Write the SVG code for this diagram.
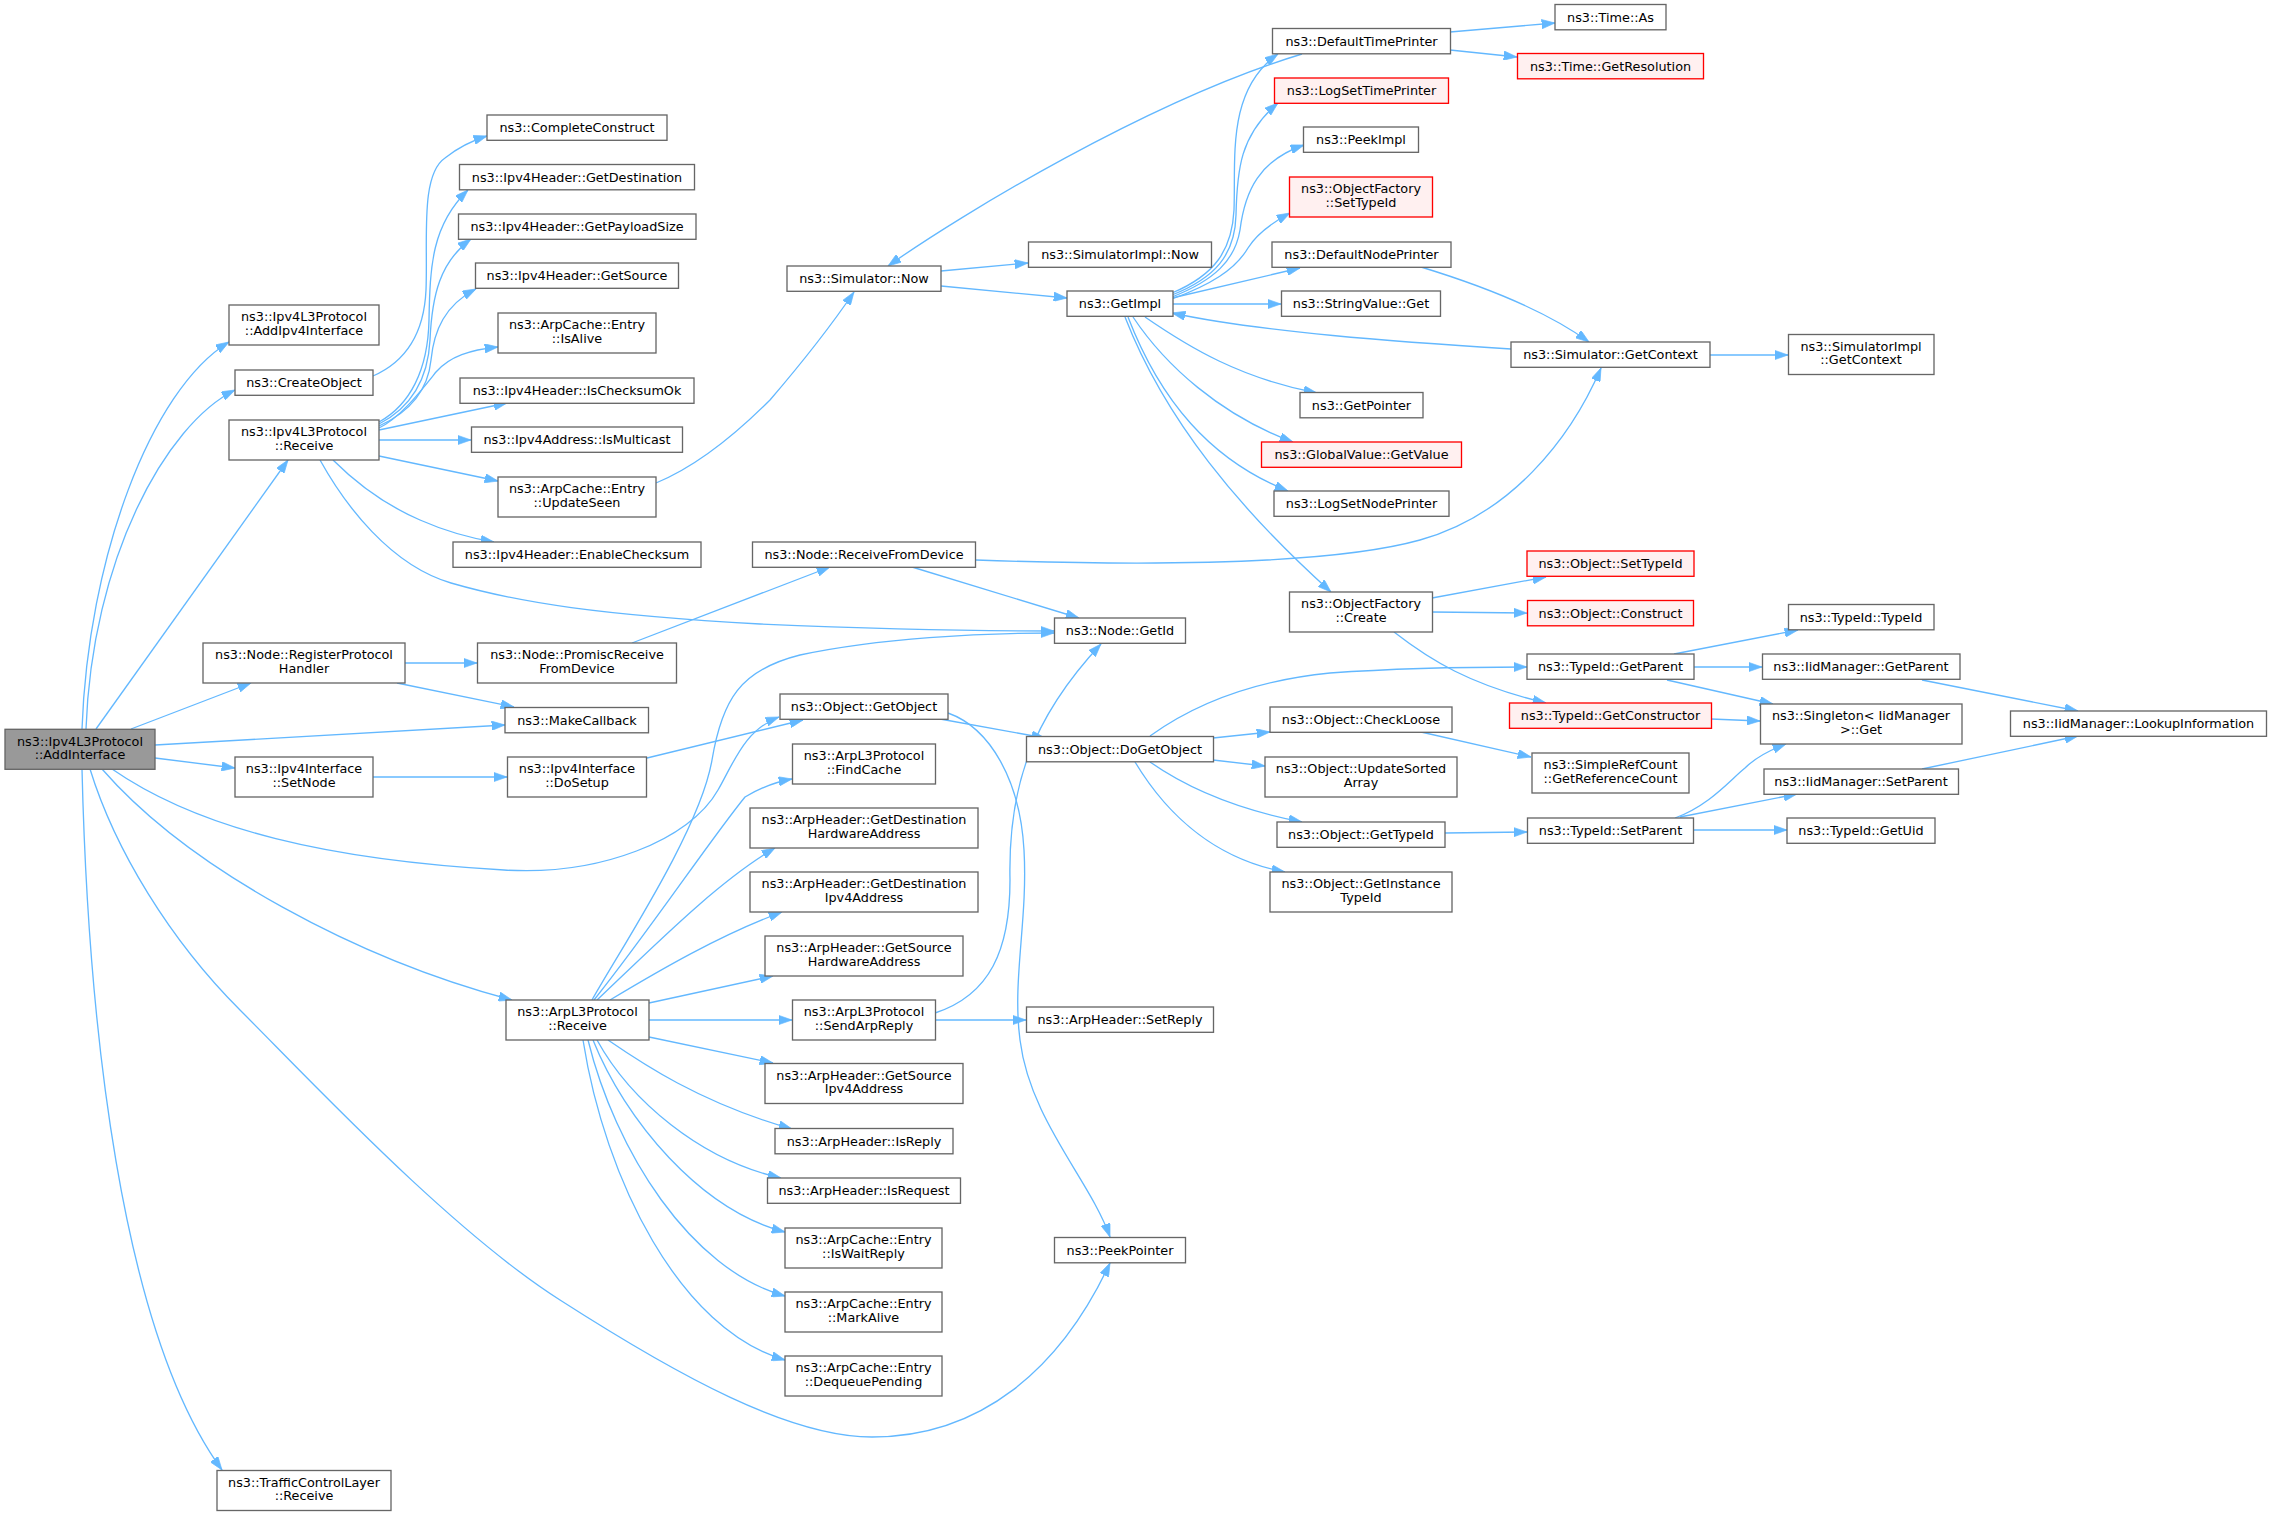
<svg xmlns="http://www.w3.org/2000/svg" width="2272" height="1516" viewBox="0 0 2272 1516">
<style>
.n rect{fill:#ffffff;stroke:#666666;stroke-width:1.33}
.n.root rect{fill:#999999}
.n.red rect{fill:#fff0f0;stroke:#ff0000}
.n text{font-family:"DejaVu Sans",sans-serif;font-size:12.8px;text-anchor:middle;fill:#000000}
#edges path{fill:none;stroke:#63b8ff;stroke-width:1.33;marker-end:url(#a)}
</style>
<defs>
<marker id="a" viewBox="0 0 10 7" refX="10" refY="3.5" markerWidth="13.33" markerHeight="9.33" markerUnits="userSpaceOnUse" orient="auto">
<path d="M0,0 L10,3.5 L0,7 z" fill="#63b8ff" stroke="#63b8ff" stroke-width="0.5"/>
</marker>
</defs>
<rect width="2272" height="1516" fill="#ffffff"/>
<g id="edges">
<path d="M82,729 C88,560 150,390 229,342"/>
<path d="M86,729 C92,560 165,425 235,390"/>
<path d="M96,729 L288,460"/>
<path d="M131,729 L251,683"/>
<path d="M155,745 L505,725"/>
<path d="M155,758 L235,768"/>
<path d="M112,769 C200,830 330,860 504,870 C600,876 690,840 718,790 C735,760 745,730 779,717"/>
<path d="M102,769 C190,870 360,960 512,1000"/>
<path d="M90,769 C115,850 170,940 240,1010 C310,1080 450,1230 560,1300 C680,1377 790,1437 872,1437 C980,1437 1060,1370 1110,1263"/>
<path d="M82,769 C88,1020 120,1330 222,1470"/>
<path d="M373,376 C405,362 424,335 426,290 C428,240 420,175 445,158 C460,146 474,140 487,136"/>
<path d="M379,422 C410,405 428,370 429,320 C430,265 432,225 468,190"/>
<path d="M379,424 C410,408 428,380 430,340 C432,295 440,262 471,239"/>
<path d="M379,426 C410,412 428,390 431,360 C434,330 445,305 476,289"/>
<path d="M379,428 C400,418 420,392 436,372 C450,356 470,350 498,347"/>
<path d="M379,430 L507,403"/>
<path d="M379,440 L471,440"/>
<path d="M379,456 L498,481"/>
<path d="M333,460 C360,487 390,507 420,520 C445,531 470,538 494,542"/>
<path d="M320,460 C345,505 390,565 451,583 C520,603 600,615 760,624 C880,629 980,631 1054,631"/>
<path d="M656,483 C700,465 740,430 770,400 C800,365 835,320 854,292"/>
<path d="M405,663 L477,663"/>
<path d="M397,683 L514,707"/>
<path d="M373,777 L507,777"/>
<path d="M647,758 L803,720"/>
<path d="M632,643 L830,567"/>
<path d="M592,1000 C620,950 700,830 712,760 C722,700 740,670 800,655 C880,638 980,633 1054,633"/>
<path d="M594,1000 C650,930 710,840 745,797 C760,788 775,782 792,779"/>
<path d="M597,1000 C660,940 720,880 775,848"/>
<path d="M610,1000 C660,970 720,935 782,912"/>
<path d="M649,1003 L773,976"/>
<path d="M649,1020 L792,1020"/>
<path d="M649,1037 L773,1063"/>
<path d="M608,1040 C640,1062 700,1103 792,1129"/>
<path d="M597,1040 C630,1100 700,1160 781,1178"/>
<path d="M593,1040 C625,1120 700,1210 785,1232"/>
<path d="M588,1040 C615,1150 690,1270 785,1296"/>
<path d="M583,1040 C605,1180 680,1330 785,1360"/>
<path d="M941,271 L1028,263"/>
<path d="M941,286 L1067,298"/>
<path d="M912,567 L1079,618"/>
<path d="M976,560 C1150,566 1330,565 1420,540 C1510,515 1570,440 1601,368"/>
<path d="M940,719 L1045,738"/>
<path d="M948,713 C990,728 1020,780 1024,850 C1028,920 1012,980 1020,1040 C1030,1120 1090,1180 1110,1237"/>
<path d="M935,1013 C990,995 1010,950 1010,880 C1008,790 1030,720 1101,644"/>
<path d="M935,1020 L1026,1020"/>
<path d="M1172,293 C1215,275 1232,250 1234,210 C1236,160 1226,90 1278,54"/>
<path d="M1172,295 C1215,278 1235,255 1236,215 C1237,170 1240,135 1278,103"/>
<path d="M1172,297 C1215,280 1235,260 1240,230 C1245,190 1260,160 1304,145"/>
<path d="M1172,299 C1210,285 1235,270 1248,248 C1256,235 1268,225 1290,213"/>
<path d="M1172,298 L1300,268"/>
<path d="M1172,304 L1281,304"/>
<path d="M1145,317 C1190,348 1240,378 1317,393"/>
<path d="M1133,317 C1165,365 1220,415 1293,442"/>
<path d="M1128,317 C1160,400 1210,460 1288,491"/>
<path d="M1125,317 C1165,420 1240,510 1331,592"/>
<path d="M1302,54 C1150,100 960,215 888,266"/>
<path d="M1450,32 L1555,23"/>
<path d="M1450,50 L1517,57"/>
<path d="M1421,267 C1480,285 1545,310 1589,342"/>
<path d="M1511,349 C1400,342 1260,332 1172,313"/>
<path d="M1710,355 L1788,355"/>
<path d="M1432,598 L1546,577"/>
<path d="M1432,612 L1527,613"/>
<path d="M1394,632 C1430,660 1470,685 1546,703"/>
<path d="M1213,738 L1270,732"/>
<path d="M1213,760 L1265,766"/>
<path d="M1150,762 C1190,790 1240,810 1302,822"/>
<path d="M1135,762 C1170,820 1220,860 1285,872"/>
<path d="M1150,736 C1200,700 1260,680 1330,673 C1400,668 1470,667 1527,667"/>
<path d="M1421,732 L1531,757"/>
<path d="M1445,833 L1527,832"/>
<path d="M1674,654 L1798,630"/>
<path d="M1694,667 L1762,667"/>
<path d="M1667,680 L1773,704"/>
<path d="M1711,719 L1760,721"/>
<path d="M1675,818 C1710,805 1730,780 1745,768 C1755,758 1770,750 1786,744"/>
<path d="M1680,817 L1797,794"/>
<path d="M1694,830 L1787,830"/>
<path d="M1922,680 L2078,711"/>
<path d="M1922,769 L2078,736"/>
</g>
<g id="n_root" class="n root"><rect x="5" y="729.3" width="150" height="40"/><text x="80" y="745.6">ns3::Ipv4L3Protocol</text><text x="80" y="758.9">::AddInterface</text></g>
<g id="n_addipv4" class="n"><rect x="229" y="305" width="150" height="40"/><text x="304" y="321.3">ns3::Ipv4L3Protocol</text><text x="304" y="334.6">::AddIpv4Interface</text></g>
<g id="n_createobject" class="n"><rect x="235" y="370" width="138" height="25.3"/><text x="304" y="387">ns3::CreateObject</text></g>
<g id="n_ipv4receive" class="n"><rect x="229" y="420" width="150" height="40"/><text x="304" y="436.3">ns3::Ipv4L3Protocol</text><text x="304" y="449.6">::Receive</text></g>
<g id="n_registerph" class="n"><rect x="203" y="643" width="202" height="40"/><text x="304" y="659.3">ns3::Node::RegisterProtocol</text><text x="304" y="672.6">Handler</text></g>
<g id="n_setnode" class="n"><rect x="235" y="757" width="138" height="40"/><text x="304" y="773.3">ns3::Ipv4Interface</text><text x="304" y="786.6">::SetNode</text></g>
<g id="n_tcl" class="n"><rect x="217" y="1470.5" width="174" height="40"/><text x="304" y="1486.8">ns3::TrafficControlLayer</text><text x="304" y="1500.1">::Receive</text></g>
<g id="n_completeconstruct" class="n"><rect x="487" y="115" width="180" height="25.3"/><text x="577" y="132">ns3::CompleteConstruct</text></g>
<g id="n_getdestination" class="n"><rect x="459.5" y="164.5" width="235" height="25.3"/><text x="577" y="181.5">ns3::Ipv4Header::GetDestination</text></g>
<g id="n_getpayloadsize" class="n"><rect x="458.5" y="214" width="237.5" height="25.3"/><text x="577" y="231">ns3::Ipv4Header::GetPayloadSize</text></g>
<g id="n_getsource" class="n"><rect x="475.5" y="263" width="203" height="25.3"/><text x="577" y="280">ns3::Ipv4Header::GetSource</text></g>
<g id="n_isalive" class="n"><rect x="498" y="313" width="158" height="40"/><text x="577" y="329.3">ns3::ArpCache::Entry</text><text x="577" y="342.6">::IsAlive</text></g>
<g id="n_ischecksumok" class="n"><rect x="460" y="378" width="234" height="25.3"/><text x="577" y="395">ns3::Ipv4Header::IsChecksumOk</text></g>
<g id="n_ismulticast" class="n"><rect x="471.5" y="427" width="211" height="25.3"/><text x="577" y="444">ns3::Ipv4Address::IsMulticast</text></g>
<g id="n_updateseen" class="n"><rect x="498" y="477" width="158" height="40"/><text x="577" y="493.3">ns3::ArpCache::Entry</text><text x="577" y="506.6">::UpdateSeen</text></g>
<g id="n_enablechecksum" class="n"><rect x="453" y="542" width="248" height="25.3"/><text x="577" y="559">ns3::Ipv4Header::EnableChecksum</text></g>
<g id="n_promisc" class="n"><rect x="477.5" y="643" width="199" height="40"/><text x="577" y="659.3">ns3::Node::PromiscReceive</text><text x="577" y="672.6">FromDevice</text></g>
<g id="n_makecallback" class="n"><rect x="505" y="707.5" width="143.5" height="25.3"/><text x="577" y="724.5">ns3::MakeCallback</text></g>
<g id="n_dosetup" class="n"><rect x="507.5" y="757" width="139" height="40"/><text x="577" y="773.3">ns3::Ipv4Interface</text><text x="577" y="786.6">::DoSetup</text></g>
<g id="n_arpreceive" class="n"><rect x="506" y="1000" width="143" height="40"/><text x="577.5" y="1016.3">ns3::ArpL3Protocol</text><text x="577.5" y="1029.6">::Receive</text></g>
<g id="n_simnow" class="n"><rect x="787" y="266" width="154" height="25.3"/><text x="864" y="283">ns3::Simulator::Now</text></g>
<g id="n_recvfromdev" class="n"><rect x="752.5" y="542" width="223" height="25.3"/><text x="864" y="559">ns3::Node::ReceiveFromDevice</text></g>
<g id="n_getobject" class="n"><rect x="780" y="694" width="168" height="25.3"/><text x="864" y="711">ns3::Object::GetObject</text></g>
<g id="n_findcache" class="n"><rect x="792.5" y="744" width="143" height="40"/><text x="864" y="760.3">ns3::ArpL3Protocol</text><text x="864" y="773.6">::FindCache</text></g>
<g id="n_getdesthw" class="n"><rect x="750" y="808" width="228" height="40"/><text x="864" y="824.3">ns3::ArpHeader::GetDestination</text><text x="864" y="837.6">HardwareAddress</text></g>
<g id="n_getdestip" class="n"><rect x="750" y="872" width="228" height="40"/><text x="864" y="888.3">ns3::ArpHeader::GetDestination</text><text x="864" y="901.6">Ipv4Address</text></g>
<g id="n_getsrchw" class="n"><rect x="765" y="936" width="198" height="40"/><text x="864" y="952.3">ns3::ArpHeader::GetSource</text><text x="864" y="965.6">HardwareAddress</text></g>
<g id="n_sendarpreply" class="n"><rect x="792.5" y="1000" width="143" height="40"/><text x="864" y="1016.3">ns3::ArpL3Protocol</text><text x="864" y="1029.6">::SendArpReply</text></g>
<g id="n_getsrcip" class="n"><rect x="765" y="1063.5" width="198" height="40"/><text x="864" y="1079.8">ns3::ArpHeader::GetSource</text><text x="864" y="1093.1">Ipv4Address</text></g>
<g id="n_isreply" class="n"><rect x="775" y="1128.5" width="178" height="25.3"/><text x="864" y="1145.5">ns3::ArpHeader::IsReply</text></g>
<g id="n_isrequest" class="n"><rect x="767.5" y="1178" width="193" height="25.3"/><text x="864" y="1195">ns3::ArpHeader::IsRequest</text></g>
<g id="n_iswaitreply" class="n"><rect x="785" y="1228" width="157" height="40"/><text x="863.5" y="1244.3">ns3::ArpCache::Entry</text><text x="863.5" y="1257.6">::IsWaitReply</text></g>
<g id="n_markalive" class="n"><rect x="785" y="1292" width="157" height="40"/><text x="863.5" y="1308.3">ns3::ArpCache::Entry</text><text x="863.5" y="1321.6">::MarkAlive</text></g>
<g id="n_dequeue" class="n"><rect x="785" y="1356" width="157" height="40"/><text x="863.5" y="1372.3">ns3::ArpCache::Entry</text><text x="863.5" y="1385.6">::DequeuePending</text></g>
<g id="n_simimplnow" class="n"><rect x="1028.5" y="242" width="183" height="25.3"/><text x="1120" y="259">ns3::SimulatorImpl::Now</text></g>
<g id="n_getimpl" class="n"><rect x="1067" y="291" width="106" height="25.3"/><text x="1120" y="308">ns3::GetImpl</text></g>
<g id="n_getid" class="n"><rect x="1054.5" y="618" width="131" height="25.3"/><text x="1120" y="635">ns3::Node::GetId</text></g>
<g id="n_dogetobject" class="n"><rect x="1026.5" y="736.5" width="187" height="25.3"/><text x="1120" y="753.5">ns3::Object::DoGetObject</text></g>
<g id="n_setreply" class="n"><rect x="1026.5" y="1007" width="187" height="25.3"/><text x="1120" y="1024">ns3::ArpHeader::SetReply</text></g>
<g id="n_peekpointer" class="n"><rect x="1054.5" y="1237.5" width="131" height="25.3"/><text x="1120" y="1254.5">ns3::PeekPointer</text></g>
<g id="n_deftimeprinter" class="n"><rect x="1272.5" y="28.5" width="178" height="25.3"/><text x="1361.5" y="45.5">ns3::DefaultTimePrinter</text></g>
<g id="n_logsettimeprinter" class="n red"><rect x="1274.5" y="78" width="174" height="25.3"/><text x="1361.5" y="95">ns3::LogSetTimePrinter</text></g>
<g id="n_peekimpl" class="n"><rect x="1303.5" y="127" width="115" height="25.3"/><text x="1361" y="144">ns3::PeekImpl</text></g>
<g id="n_ofsettypeid" class="n red"><rect x="1289.5" y="177" width="143" height="40"/><text x="1361" y="193.3">ns3::ObjectFactory</text><text x="1361" y="206.6">::SetTypeId</text></g>
<g id="n_defnodeprinter" class="n"><rect x="1272" y="242" width="179" height="25.3"/><text x="1361.5" y="259">ns3::DefaultNodePrinter</text></g>
<g id="n_stringvalueget" class="n"><rect x="1281.5" y="291" width="159" height="25.3"/><text x="1361" y="308">ns3::StringValue::Get</text></g>
<g id="n_getpointer" class="n"><rect x="1300" y="392.5" width="123" height="25.3"/><text x="1361.5" y="409.5">ns3::GetPointer</text></g>
<g id="n_globalvalue" class="n red"><rect x="1261.5" y="442" width="200" height="25.3"/><text x="1361.5" y="459">ns3::GlobalValue::GetValue</text></g>
<g id="n_logsetnodeprinter" class="n"><rect x="1274" y="491" width="175" height="25.3"/><text x="1361.5" y="508">ns3::LogSetNodePrinter</text></g>
<g id="n_ofcreate" class="n"><rect x="1289.5" y="592" width="143" height="40"/><text x="1361" y="608.3">ns3::ObjectFactory</text><text x="1361" y="621.6">::Create</text></g>
<g id="n_checkloose" class="n"><rect x="1270" y="707" width="182" height="25.3"/><text x="1361" y="724">ns3::Object::CheckLoose</text></g>
<g id="n_updatesorted" class="n"><rect x="1265" y="757" width="192" height="40"/><text x="1361" y="773.3">ns3::Object::UpdateSorted</text><text x="1361" y="786.6">Array</text></g>
<g id="n_objgettypeid" class="n"><rect x="1277" y="822" width="168" height="25.3"/><text x="1361" y="839">ns3::Object::GetTypeId</text></g>
<g id="n_getinstancetypeid" class="n"><rect x="1270" y="872" width="182" height="40"/><text x="1361" y="888.3">ns3::Object::GetInstance</text><text x="1361" y="901.6">TypeId</text></g>
<g id="n_timeas" class="n"><rect x="1555" y="4.5" width="111" height="25.3"/><text x="1610.5" y="21.5">ns3::Time::As</text></g>
<g id="n_getresolution" class="n red"><rect x="1517.5" y="53.5" width="186" height="25.3"/><text x="1610.5" y="70.5">ns3::Time::GetResolution</text></g>
<g id="n_simgetcontext" class="n"><rect x="1511" y="342" width="199" height="25.3"/><text x="1610.5" y="359">ns3::Simulator::GetContext</text></g>
<g id="n_objsettypeid" class="n red"><rect x="1527" y="551" width="167" height="25.3"/><text x="1610.5" y="568">ns3::Object::SetTypeId</text></g>
<g id="n_objconstruct" class="n red"><rect x="1527.5" y="600.5" width="166" height="25.3"/><text x="1610.5" y="617.5">ns3::Object::Construct</text></g>
<g id="n_typeidgetparent" class="n"><rect x="1527" y="654" width="167" height="25.3"/><text x="1610.5" y="671">ns3::TypeId::GetParent</text></g>
<g id="n_getconstructor" class="n red"><rect x="1509.5" y="703" width="202" height="25.3"/><text x="1610.5" y="720">ns3::TypeId::GetConstructor</text></g>
<g id="n_simplerefcount" class="n"><rect x="1532" y="753" width="157" height="40"/><text x="1610.5" y="769.3">ns3::SimpleRefCount</text><text x="1610.5" y="782.6">::GetReferenceCount</text></g>
<g id="n_typeidsetparent" class="n"><rect x="1527.5" y="818" width="166" height="25.3"/><text x="1610.5" y="835">ns3::TypeId::SetParent</text></g>
<g id="n_simimplgetcontext" class="n"><rect x="1788.5" y="334.5" width="145.5" height="40"/><text x="1861" y="350.8">ns3::SimulatorImpl</text><text x="1861" y="364.1">::GetContext</text></g>
<g id="n_typeidtypeid" class="n"><rect x="1788.5" y="604.5" width="145.5" height="25.3"/><text x="1861" y="621.5">ns3::TypeId::TypeId</text></g>
<g id="n_iidgetparent" class="n"><rect x="1762.5" y="654" width="197.5" height="25.3"/><text x="1861" y="671">ns3::IidManager::GetParent</text></g>
<g id="n_singleton" class="n"><rect x="1760.5" y="704" width="201.5" height="40"/><text x="1861" y="720.3">ns3::Singleton&lt; IidManager</text><text x="1861" y="733.6">&gt;::Get</text></g>
<g id="n_iidsetparent" class="n"><rect x="1764" y="769" width="194.5" height="25.3"/><text x="1861" y="786">ns3::IidManager::SetParent</text></g>
<g id="n_getuid" class="n"><rect x="1787" y="818" width="148" height="25.3"/><text x="1861" y="835">ns3::TypeId::GetUid</text></g>
<g id="n_lookup" class="n"><rect x="2010.5" y="711" width="256" height="25.3"/><text x="2138.5" y="728">ns3::IidManager::LookupInformation</text></g>
</svg>
